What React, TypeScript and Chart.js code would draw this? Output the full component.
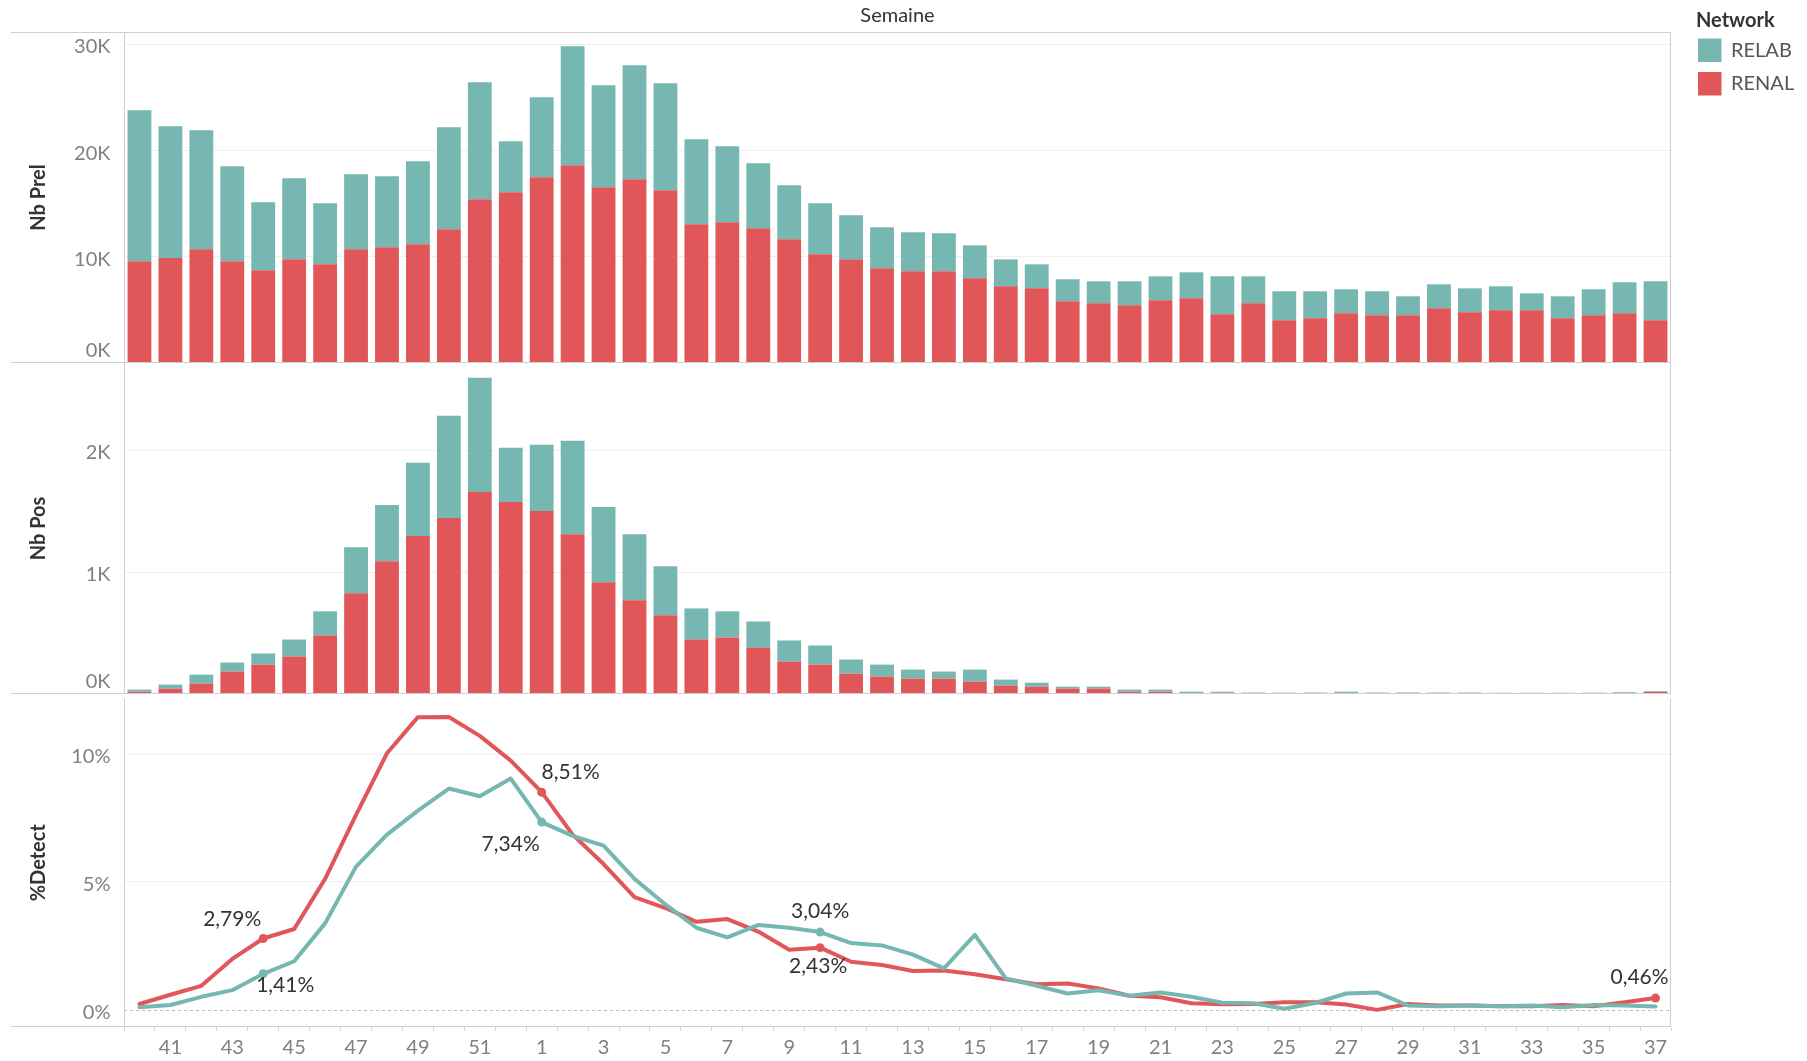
import React, { useEffect, useRef } from 'react';
import { Chart, registerables } from 'chart.js';

Chart.register(...registerables);

// ---------- DATA ----------
const WEEKS = [
  '40', '41', '42', '43', '44', '45', '46', '47', '48', '49', '50', '51', '52',
  '1', '2', '3', '4', '5', '6', '7', '8', '9', '10',
  '11', '12', '13', '14', '15', '16', '17', '18', '19', '20',
  '21', '22', '23', '24', '25', '26', '27', '28', '29', '30',
  '31', '32', '33', '34', '35', '36', '37',
];

const PREL_RENAL = [
  9580, 9890, 10710, 9580, 8730, 9760, 9290, 10710, 10890, 11180, 12590, 15420, 16080,
  17490, 18620, 16550, 17300, 16260, 13060, 13250, 12680, 11650, 10240,
  9760, 8920, 8630, 8630, 7970, 7220, 7030, 5810, 5620, 5430,
  5900, 6090, 4580, 5620, 4020, 4210, 4680, 4490, 4490, 5150,
  4770, 4960, 4960, 4210, 4490, 4680, 4020,
];
const PREL_RELAB = [
  14220, 12400, 11210, 8940, 6400, 7630, 5750, 7060, 6690, 7820, 9610, 11020, 4800,
  7530, 11210, 9600, 10740, 10080, 8010, 7160, 6130, 5080, 4800,
  4150, 3860, 3680, 3580, 3110, 2540, 2260, 2070, 2070, 2260,
  2260, 2450, 3580, 2540, 2730, 2540, 2260, 2260, 1790, 2260,
  2260, 2260, 1600, 2070, 2450, 2920, 3670,
];

const POS_RENAL = [
  19, 44, 85, 184, 241, 307, 480, 826, 1089, 1295, 1443, 1657, 1575,
  1501, 1311, 916, 768, 645, 447, 464, 381, 266, 241,
  167, 143, 126, 126, 102, 69, 60, 44, 44, 19,
  19, 8, 10, 8, 9, 8, 9, 1, 10, 9,
  8, 7, 7, 8, 6, 10, 18,
];
const POS_RELAB = [
  17, 33, 74, 74, 91, 140, 198, 378, 461, 601, 840, 938, 444,
  543, 766, 618, 543, 403, 255, 214, 214, 173, 157,
  116, 98, 74, 58, 98, 49, 33, 16, 16, 17,
  17, 11, 9, 4, 2, 4, 10, 11, 3, 3,
  4, 3, 3, 2, 5, 5, 5,
];

const DETECT_RENAL = [
  0.23, 0.59, 0.94, 1.99, 2.79, 3.16, 5.12, 7.62, 10.03, 11.44, 11.45, 10.71, 9.74,
  8.51, 6.85, 5.7, 4.41, 3.98, 3.44, 3.55, 3.06, 2.35, 2.43,
  1.88, 1.75, 1.52, 1.54, 1.39, 1.2, 1.0, 1.03, 0.84, 0.55,
  0.49, 0.26, 0.22, 0.23, 0.3, 0.3, 0.21, 0.0, 0.23, 0.17,
  0.17, 0.14, 0.14, 0.19, 0.14, 0.3, 0.46,
];
const DETECT_RELAB = [
  0.1, 0.19, 0.51, 0.77, 1.41, 1.9, 3.38, 5.6, 6.85, 7.79, 8.65, 8.35, 9.04,
  7.34, 6.8, 6.42, 5.12, 4.12, 3.21, 2.83, 3.32, 3.21, 3.04,
  2.61, 2.52, 2.16, 1.62, 2.93, 1.23, 0.94, 0.64, 0.77, 0.55,
  0.68, 0.51, 0.28, 0.26, 0.04, 0.27, 0.64, 0.68, 0.17, 0.14,
  0.17, 0.14, 0.17, 0.1, 0.19, 0.17, 0.13,
];

const PREL_TICKS = [0, 10000, 20000, 30000];
const POS_TICKS = [0, 1000, 2000];
const DETECT_TICKS = [0, 5, 10];

const MARKED_RENAL = ['44', '1', '10', '37'];
const MARKED_RELAB = ['44', '1', '10'];

// ---------- STYLE ----------
const FONT = 'Lato, "Open Sans", "DejaVu Sans", sans-serif';
const CANVAS_W = 1807;
const AXIS_W = 124;
const RIGHT_PAD = 136;
const FRAME_LEFT = 11;
const FRAME = '#cfcfcf';
const GRID = '#efefef';
const TICK_COLOR = '#808080';
const TITLE_COLOR = '#333333';
const COLORS: Record<string, string> = { RELAB: '#76b7b2', RENAL: '#e15759' };

// label offsets (px) from the marked point to the label centre
const LABEL_OFFSETS: Record<string, Record<string, [number, number]>> = {
  RENAL: { '44': [-31, -19], '1': [29, -20], '10': [-2, 19], '37': [-16, -21] },
  RELAB: { '44': [22, 11], '1': [-31, 22], '10': [0, -21] },
};

const fmtPct = (v: number) => v.toFixed(2).replace('.', ',') + '%';
const fmtTick = (v: number, kind: string) => (kind === 'pct' ? `${v}%` : `${v / 1000}K`);

const panelDecor = {
  id: 'panelDecor',
  beforeDatasetsDraw(chart: any, _a: any, o: any) {
    if (!o.zeroLine) return;
    const { ctx, chartArea: a } = chart;
    const y = Math.round(chart.scales.y.getPixelForValue(0)) + 0.5;
    ctx.save();
    ctx.strokeStyle = '#b8b8b8';
    ctx.lineWidth = 1;
    ctx.setLineDash([3, 3]);
    ctx.beginPath();
    ctx.moveTo(a.left, y);
    ctx.lineTo(a.right, y);
    ctx.stroke();
    ctx.restore();
  },
  afterDraw(chart: any, _a: any, o: any) {
    const { ctx, chartArea: a } = chart;
    const ys = chart.scales.y;
    ctx.save();
    ctx.strokeStyle = FRAME;
    ctx.lineWidth = 1;
    const h = (y: number) => {
      ctx.beginPath();
      ctx.moveTo(FRAME_LEFT, y);
      ctx.lineTo(a.right, y);
      ctx.stroke();
    };
    if (o.frameTop) h(a.top + 0.5);
    h(a.bottom - 0.5);
    ctx.beginPath();
    ctx.moveTo(a.right - 0.5, a.top);
    ctx.lineTo(a.right - 0.5, a.bottom);
    ctx.stroke();
    ctx.beginPath();
    ctx.moveTo(a.left + 0.5, a.top);
    ctx.lineTo(a.left + 0.5, a.bottom);
    ctx.stroke();

    // y tick labels
    ctx.fillStyle = TICK_COLOR;
    ctx.font = `20px ${FONT}`;
    ctx.textAlign = 'right';
    ctx.textBaseline = 'middle';
    ys.ticks.forEach((t: any) => {
      const py = ys.getPixelForValue(t.value);
      const cy = Math.min(py + 2.5, a.bottom - 12.5);
      ctx.fillText(fmtTick(t.value, o.tickKind), AXIS_W - 13.5, cy);
    });

    // axis title
    ctx.save();
    ctx.translate(39, (a.top + a.bottom) / 2);
    ctx.rotate(-Math.PI / 2);
    ctx.fillStyle = TITLE_COLOR;
    ctx.font = `bold 20px ${FONT}`;
    ctx.textAlign = 'center';
    ctx.textBaseline = 'middle';
    ctx.fillText(o.axisTitle, 0, 0);
    ctx.restore();

    if (o.header) {
      ctx.fillStyle = TITLE_COLOR;
      ctx.font = `20px ${FONT}`;
      ctx.textAlign = 'center';
      ctx.textBaseline = 'middle';
      ctx.fillText(o.header, (a.left + a.right) / 2, 16);
    }

    if (o.legend) {
      ctx.textAlign = 'left';
      ctx.textBaseline = 'middle';
      ctx.fillStyle = TITLE_COLOR;
      ctx.font = `bold 20px ${FONT}`;
      ctx.fillText(o.legend, 1696, 21);
      const ds = [...chart.data.datasets].reverse();
      ds.forEach((d: any, i: number) => {
        const top = 38.5 + i * 33.5;
        ctx.fillStyle = d.backgroundColor;
        ctx.fillRect(1698, top, 23.5, 23.5);
        ctx.fillStyle = '#555555';
        ctx.font = `20px ${FONT}`;
        ctx.fillText(d.label, 1731, top + 12);
      });
    }
    ctx.restore();
  },
};

const pointLabels = {
  id: 'pointLabels',
  afterDatasetsDraw(chart: any) {
    const { ctx } = chart;
    ctx.save();
    ctx.fillStyle = TITLE_COLOR;
    ctx.font = `21px ${FONT}`;
    ctx.textAlign = 'center';
    ctx.textBaseline = 'middle';
    chart.data.datasets.forEach((d: any, di: number) => {
      const meta = chart.getDatasetMeta(di);
      const offs = LABEL_OFFSETS[d.label] || {};
      Object.keys(offs).forEach((wk) => {
        const idx = WEEKS.indexOf(wk);
        const el = meta.data[idx];
        if (!el) return;
        const [dx, dy] = offs[wk];
        ctx.fillText(fmtPct(d.data[idx]), el.x + dx, el.y + dy);
      });
    });
    ctx.restore();
  },
};

function yAxis(min: number, max: number, tickValues: number[], stacked: boolean) {
  return {
    min,
    max,
    stacked,
    ticks: { display: false },
    afterBuildTicks: (s: any) => {
      s.ticks = tickValues.map((v) => ({ value: v }));
    },
    grid: {
      drawTicks: false,
      lineWidth: 1,
      color: (c: any) => (c.tick && c.tick.value === 0 ? 'rgba(0,0,0,0)' : GRID),
    },
    border: { display: false },
    afterFit: (s: any) => {
      s.width = AXIS_W;
    },
  };
}

function barConfig(renal: number[], relab: number[], max: number, ticks: number[], title: string, top: boolean) {
  return {
    type: 'bar',
    data: {
      labels: WEEKS,
      datasets: [
        { label: 'RENAL', data: renal, backgroundColor: COLORS.RENAL, borderWidth: 0, barPercentage: 0.77, categoryPercentage: 1 },
        { label: 'RELAB', data: relab, backgroundColor: COLORS.RELAB, borderWidth: 0, barPercentage: 0.77, categoryPercentage: 1 },
      ],
    },
    options: {
      responsive: false,
      animation: false,
      devicePixelRatio: 1,
      layout: { padding: { top: top ? 32 : 0, right: RIGHT_PAD, left: 0, bottom: 0 } },
      scales: {
        x: { display: false, stacked: true, offset: true },
        y: yAxis(0, max, ticks, true),
      },
      plugins: {
        legend: { display: false },
        tooltip: { enabled: false },
        panelDecor: {
          axisTitle: title,
          tickKind: 'K',
          frameTop: top,
          header: top ? 'Semaine' : '',
          legend: top ? 'Network' : '',
          zeroLine: false,
        },
      },
    },
    plugins: [panelDecor],
  };
}

function lineConfig() {
  const mk = (label: string, data: number[], marked: string[], order: number) => ({
    label,
    data,
    order,
    borderColor: COLORS[label],
    backgroundColor: COLORS[label],
    borderWidth: 4,
    tension: 0,
    borderJoinStyle: 'round',
    borderCapStyle: 'round',
    pointRadius: (c: any) => (marked.includes(WEEKS[c.dataIndex]) ? 4.5 : 0),
    pointBorderWidth: 0,
    pointBackgroundColor: COLORS[label],
  });
  return {
    type: 'line',
    data: {
      labels: WEEKS,
      datasets: [mk('RENAL', DETECT_RENAL, MARKED_RENAL, 1), mk('RELAB', DETECT_RELAB, MARKED_RELAB, 0)],
    },
    options: {
      responsive: false,
      animation: false,
      devicePixelRatio: 1,
      layout: { padding: { top: 0, right: RIGHT_PAD, left: 0, bottom: 0 } },
      scales: {
        x: {
          offset: true,
          grid: {
            display: true,
            offset: true,
            drawOnChartArea: false,
            drawTicks: true,
            tickLength: 4,
            tickColor: '#d6d6d6',
            color: '#d6d6d6',
          },
          border: { display: false },
          ticks: {
            autoSkip: false,
            maxRotation: 0,
            minRotation: 0,
            padding: 5,
            color: TICK_COLOR,
            font: { family: FONT, size: 20 },
            callback: (_v: any, i: number) => (i % 2 === 1 ? WEEKS[i] : ''),
          },
          afterFit: (s: any) => {
            s.height = 34;
          },
        },
        y: yAxis(-0.67, 12.17, DETECT_TICKS, false),
      },
      plugins: {
        legend: { display: false },
        tooltip: { enabled: false },
        panelDecor: {
          axisTitle: '%Detect',
          tickKind: 'pct',
          frameTop: false,
          header: '',
          legend: '',
          zeroLine: true,
        },
      },
    },
    plugins: [panelDecor, pointLabels],
  };
}

export default function App() {
  const r1 = useRef<HTMLCanvasElement>(null);
  const r2 = useRef<HTMLCanvasElement>(null);
  const r3 = useRef<HTMLCanvasElement>(null);

  useEffect(() => {
    const charts: Chart[] = [];
    if (r1.current) charts.push(new Chart(r1.current, barConfig(PREL_RENAL, PREL_RELAB, 31170, PREL_TICKS, 'Nb Prel', true) as any));
    if (r2.current) charts.push(new Chart(r2.current, barConfig(POS_RENAL, POS_RELAB, 2715, POS_TICKS, 'Nb Pos', false) as any));
    if (r3.current) charts.push(new Chart(r3.current, lineConfig() as any));
    return () => charts.forEach((c) => c.destroy());
  }, []);

  const cs = (top: number, h: number): React.CSSProperties => ({
    position: 'absolute',
    left: 0,
    top,
    width: CANVAS_W,
    height: h,
    display: 'block',
  });

  return (
    <div style={{ position: 'absolute', left: 0, top: 0, width: 1807, height: 1061, background: '#fff', overflow: 'hidden' }}>
      <canvas ref={r1} width={CANVAS_W} height={363} style={cs(0, 363)} />
      <canvas ref={r2} width={CANVAS_W} height={331} style={cs(363, 331)} />
      <canvas ref={r3} width={CANVAS_W} height={367} style={cs(694, 367)} />
    </div>
  );
}
